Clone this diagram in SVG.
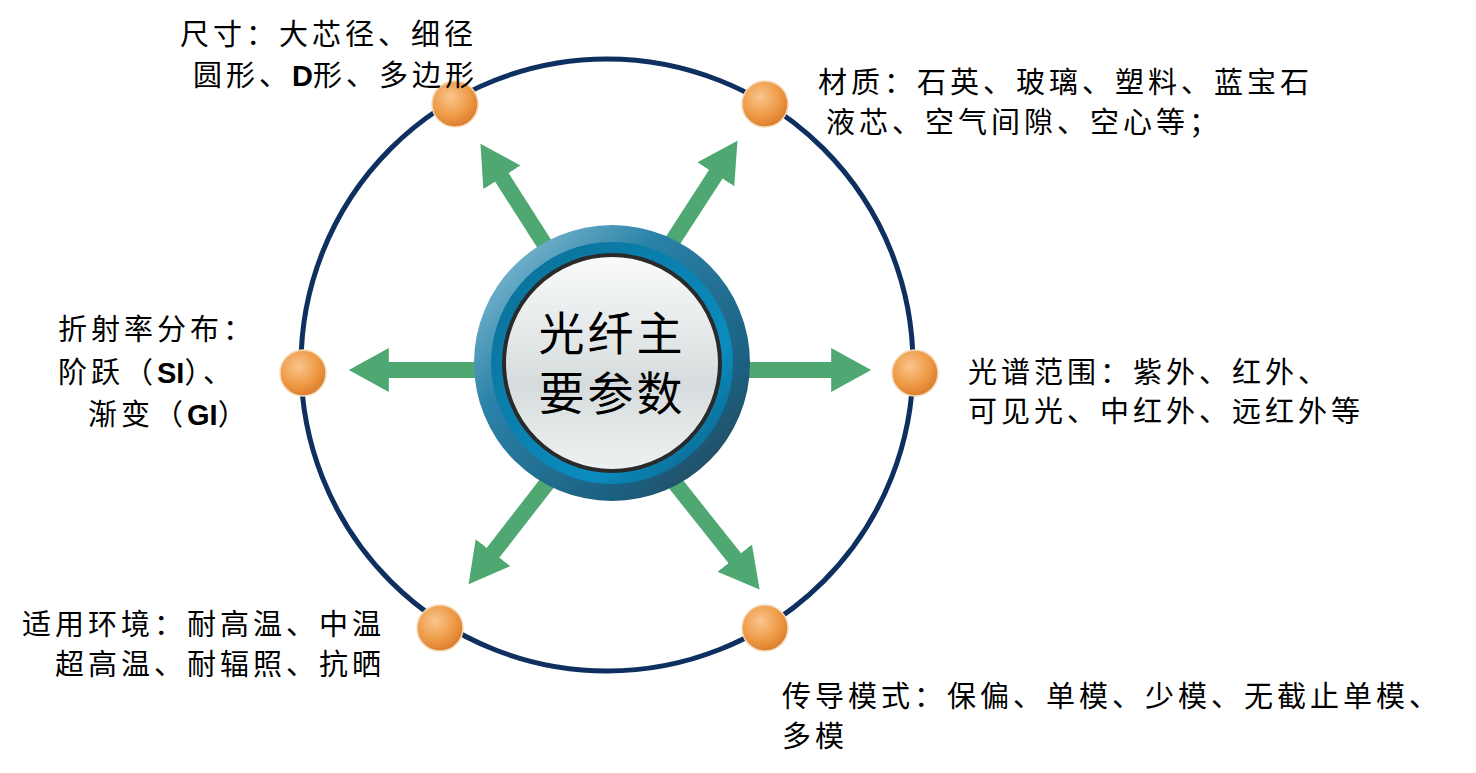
<svg xmlns="http://www.w3.org/2000/svg" width="1476" height="773" viewBox="0 0 1476 773">
<defs>
<style>
.t{font-family:"Noto Sans CJK SC","Noto Sans",sans-serif;font-size:29px;letter-spacing:4px;fill:#000}
.c{font-family:"Noto Sans CJK SC",sans-serif;font-size:46px;fill:#000;text-anchor:middle;letter-spacing:3px}
.b{font-family:"Liberation Sans",sans-serif;font-weight:bold;letter-spacing:0}
.ar{stroke:#4FA872;stroke-width:16;fill:none}
.dot{fill:url(#og);stroke:#F3D9B8;stroke-width:1.5}
</style>
<marker id="ah" markerUnits="strokeWidth" markerWidth="2.6" markerHeight="2.8" refX="0.05" refY="1.375" orient="auto"><path d="M0,0 L2.5,1.375 L0,2.75z" fill="#4FA872"/></marker>
<radialGradient id="og" cx="0.4" cy="0.35" r="0.7"><stop offset="0" stop-color="#F9C58E"/><stop offset="0.6" stop-color="#EE9A45"/><stop offset="1" stop-color="#D9782A"/></radialGradient>
<linearGradient id="bg" x1="0" y1="0" x2="1" y2="1"><stop offset="0" stop-color="#9CCDE0"/><stop offset="0.35" stop-color="#2A82A8"/><stop offset="0.75" stop-color="#1B5F80"/><stop offset="1" stop-color="#2C3E48"/></linearGradient>
<linearGradient id="mg" x1="0" y1="0" x2="1" y2="1"><stop offset="0" stop-color="#0B6F95"/><stop offset="0.7" stop-color="#0A8CC0"/><stop offset="1" stop-color="#0D5A7A"/></linearGradient>
<linearGradient id="gg" x1="0" y1="0" x2="0" y2="1"><stop offset="0" stop-color="#FAFBFB"/><stop offset="0.6" stop-color="#D6DCDD"/><stop offset="1" stop-color="#EEF1F1"/></linearGradient>
</defs>
<circle cx="607" cy="365" r="306" fill="none" stroke="#0D3060" stroke-width="5"/>
<g id="connectors">
<line class="ar" x1="545" y1="245" x2="501.5" y2="176.7" marker-end="url(#ah)"/>
<line class="ar" x1="670" y1="245" x2="716.2" y2="173.6" marker-end="url(#ah)"/>
<line class="ar" x1="478" y1="370" x2="388" y2="370" marker-end="url(#ah)"/>
<line class="ar" x1="748" y1="370" x2="832" y2="370" marker-end="url(#ah)"/>
<line class="ar" x1="548" y1="482" x2="492.6" y2="553.3" marker-end="url(#ah)"/>
<line class="ar" x1="675" y1="483" x2="735.2" y2="558.8" marker-end="url(#ah)"/>
</g>
<g id="center">
<circle cx="612" cy="363" r="138" fill="url(#bg)"/>
<circle cx="612" cy="363" r="121" fill="url(#mg)"/>
<circle cx="612" cy="363" r="108" fill="url(#gg)" stroke="#2A2A2A" stroke-width="4"/>
<text class="c" x="612" y="350">光纤主</text>
<text class="c" x="612" y="410">要参数</text>
</g>
<g id="n1"><circle class="dot" cx="455" cy="104" r="23"/>
<text class="t" x="180" y="45">尺寸：大芯径、细径</text>
<text class="t" x="193" y="86">圆形、<tspan class="b">D</tspan>形、多边形</text></g>
<g id="n2"><circle class="dot" cx="765" cy="104" r="23"/>
<text class="t" x="818" y="93">材质：石英、玻璃、塑料、蓝宝石</text>
<text class="t" x="826" y="133">液芯、空气间隙、空心等；</text></g>
<g id="n3"><circle class="dot" cx="303" cy="373" r="23"/>
<text class="t" x="58" y="340">折射率分布：</text>
<text class="t" x="58" y="383">阶跃（<tspan class="b">SI</tspan>）、</text>
<text class="t" x="88" y="425">渐变（<tspan class="b">GI</tspan>）</text></g>
<g id="n4"><circle class="dot" cx="915" cy="373" r="23"/>
<text class="t" x="968" y="383">光谱范围：紫外、红外、</text>
<text class="t" x="968" y="422">可见光、中红外、远红外等</text></g>
<g id="n5"><circle class="dot" cx="440" cy="628" r="23"/>
<text class="t" x="22" y="635">适用环境：耐高温、中温</text>
<text class="t" x="55" y="675">超高温、耐辐照、抗晒</text></g>
<g id="n6"><circle class="dot" cx="765" cy="628" r="23"/>
<text class="t" x="782" y="707">传导模式：保偏、单模、少模、无截止单模、</text>
<text class="t" x="782" y="747">多模</text></g>
</svg>
